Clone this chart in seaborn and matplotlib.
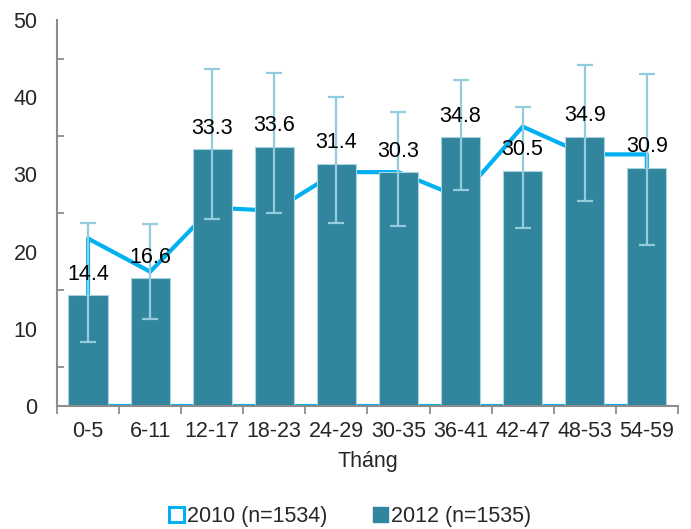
import matplotlib
matplotlib.use("Agg")
import matplotlib.pyplot as plt
from matplotlib.patches import Patch
from matplotlib.ticker import MultipleLocator, FixedLocator
import seaborn as sns
import numpy as np
import pandas as pd

# dữ liệu
age_groups = ['0-5', '6-11', '12-17', '18-23', '24-29', '30-35', '36-41', '42-47', '48-53', '54-59']
values_2010 = [21.7, 17.4, 25.7, 25.3, 30.3, 30.3, 27.0, 36.2, 32.6, 32.6]
values_2012 = [14.4, 16.6, 33.3, 33.6, 31.4, 30.3, 34.8, 30.5, 34.9, 30.9]
err_low_2012 = [8.3, 11.3, 24.2, 25.0, 23.7, 23.3, 28.0, 23.1, 26.6, 20.9]
err_high_2012 = [23.7, 23.6, 43.7, 43.2, 40.0, 38.1, 42.2, 38.7, 44.2, 43.0]

label_2010 = '2010 (n=1534)'
label_2012 = '2012 (n=1535)'

cyan = '#00B0F0'
teal = '#31859C'
err_color = '#93CDDD'
axis_gray = '#8C8C8C'
fs = 15.5

sns.set_style('white')
plt.rcParams['font.family'] = ['Liberation Sans', 'DejaVu Sans']

df = pd.DataFrame({'Tháng': age_groups, 'value': values_2012})

fig = plt.figure(figsize=(6.91, 5.29), dpi=100)
ax = fig.add_axes([0.0825, 0.2325, 0.8985, 0.7295])

x = np.arange(len(age_groups))

# 2010: vùng chỉ có viền (kiểu area chart của Excel)
ax.fill_between(x, values_2010, 0, facecolor='none', edgecolor=cyan,
                linewidth=3, zorder=1)

# 2012: cột
sns.barplot(data=df, x='Tháng', y='value', color=teal, saturation=1,
            width=0.63, edgecolor='#A9D3DE', linewidth=0.8, ax=ax, zorder=2)

# thanh sai số
v = np.array(values_2012)
yerr = [v - np.array(err_low_2012), np.array(err_high_2012) - v]
ax.errorbar(x, v, yerr=yerr, fmt='none', ecolor=err_color, elinewidth=1.6,
            capsize=5.5, capthick=1.6, zorder=3)

# nhãn giá trị
for xi, val in zip(x, values_2012):
    ax.annotate(f'{val:.1f}', (xi, val), xytext=(0, 15), textcoords='offset points',
                ha='center', va='center', fontsize=fs, color='black', zorder=4)

ax.set_xlim(-0.5, len(age_groups) - 0.5)
ax.set_ylim(0, 50)
ax.yaxis.set_major_locator(MultipleLocator(10))
ax.yaxis.set_minor_locator(MultipleLocator(5))
ax.xaxis.set_minor_locator(FixedLocator(np.arange(-0.5, len(age_groups), 1.0)))

ax.tick_params(axis='y', which='major', direction='out', length=6, width=1.3,
               color=axis_gray, labelsize=fs, pad=8)
ax.tick_params(axis='y', which='minor', direction='in', length=5, width=1.3,
               color=axis_gray, left=True)
ax.tick_params(axis='x', which='major', length=0, labelsize=fs, pad=11)
ax.tick_params(axis='x', which='minor', direction='out', length=6, width=1.3,
               color=axis_gray, bottom=True)

for side in ['top', 'right']:
    ax.spines[side].set_visible(False)
for side in ['left', 'bottom']:
    ax.spines[side].set_color(axis_gray)
    ax.spines[side].set_linewidth(1.5)
    ax.spines[side].set_zorder(5)

ax.set_ylabel('')
ax.set_xlabel('Tháng', fontsize=fs, labelpad=6)

handles = [Patch(facecolor='white', edgecolor=cyan, linewidth=2.2, label=label_2010),
           Patch(facecolor=teal, edgecolor=teal, label=label_2012)]
fig.legend(handles=handles, loc='center', bbox_to_anchor=(0.507, 0.023), ncol=2,
           frameon=False, fontsize=fs, handlelength=0.7, handleheight=0.7,
           handletextpad=0.15, columnspacing=2.1)

plt.savefig('out.png', dpi=100)
